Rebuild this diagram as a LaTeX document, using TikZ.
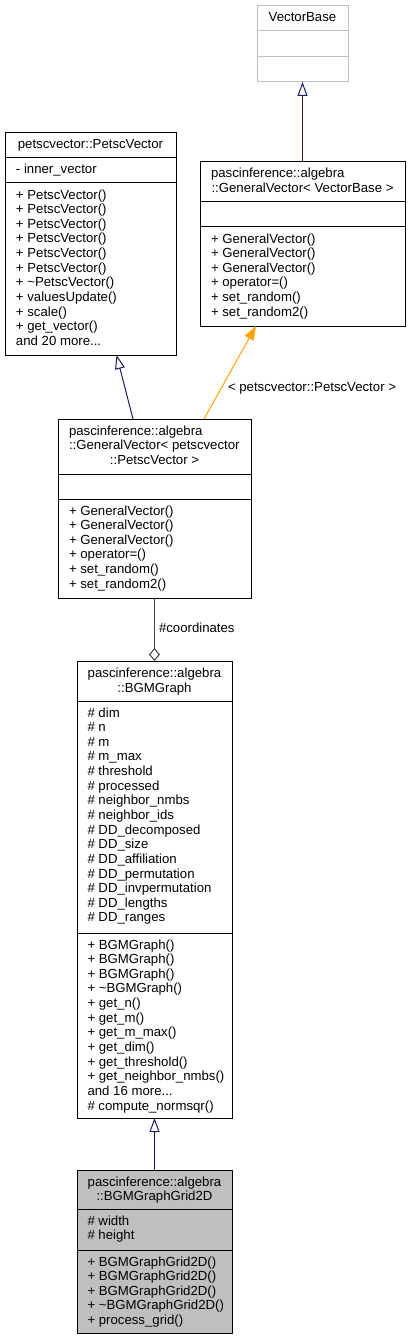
\documentclass[tikz,border=0pt]{standalone}
\usepackage{fontspec}
\setmainfont{Liberation Sans}
\usetikzlibrary{arrows.meta,calc}
\definecolor{navyline}{HTML}{191970}
\definecolor{orangeline}{HTML}{FFA500}
\definecolor{aggline}{HTML}{404040}
\definecolor{lightborder}{HTML}{BFBFBF}
\definecolor{curfill}{HTML}{BFBFBF}
\newcommand\fl{\rule{0pt}{10pt}}
\begin{document}
\begin{tikzpicture}[x=1pt,y=-1pt,
  cls/.style={draw=black, line width=1pt, inner sep=0, outer sep=0, anchor=north west},
  divider/.style={draw=black, line width=1pt},
  txt/.style={inner sep=0, outer sep=0, align=left, anchor=north west, font=\fontsize{13.2}{14.64}\selectfont},
  hdl/.style={inner sep=0, outer sep=0, anchor=base west, font=\fontsize{13.2}{14.64}\selectfont},
  hdc/.style={inner sep=0, outer sep=0, anchor=base, font=\fontsize{13.2}{14.64}\selectfont},
  inherit/.style={draw=navyline, line width=1pt, -{Triangle[open, length=14pt, width=10pt]}},
  templ/.style={draw=orangeline, line width=1pt, -{Triangle[length=14pt, width=10pt]}, fill=none},
  aggr/.style={draw=aggline, line width=1pt, -{Diamond[open, length=13pt, width=11pt]}},
  lbl/.style={inner sep=0, outer sep=0, anchor=base west, font=\fontsize{13.2}{14.64}\selectfont}
]
\useasboundingbox (0,0) rectangle (411,1340);

% ---------- VectorBase ----------
\node[cls, draw=lightborder, minimum width=91pt, minimum height=76pt] (vb) at (257,6) {};
\draw[divider, draw=lightborder] ($(vb.north west)+(0,25)$) -- ($(vb.north east)+(0,25)$);
\draw[divider, draw=lightborder] ($(vb.north west)+(0,51)$) -- ($(vb.north east)+(0,51)$);
\node[hdc] (vb-h) at ($(vb.north)+(0,16)$) {VectorBase};

% ---------- GeneralVector< VectorBase > ----------
\node[cls, minimum width=205pt, minimum height=164pt] (gvvb) at (200,162) {};
\draw[divider] ($(gvvb.north west)+(0,40)$) -- ($(gvvb.north east)+(0,40)$);
\draw[divider] ($(gvvb.north west)+(0,65)$) -- ($(gvvb.north east)+(0,65)$);
\node[hdl] (gvvb-h1) at ($(gvvb.north west)+(11,16)$) {pascinference::algebra};
\node[hdc] (gvvb-h2) at ($(gvvb.north)+(0,30.64)$) {::GeneralVector< VectorBase >};
\node[txt] (gvvb-m) at ($(gvvb.north west)+(11,71)$) {\fl+ GeneralVector()\\+ GeneralVector()\\+ GeneralVector()\\+ operator=()\\+ set\_random()\\+ set\_random2()};

% ---------- PetscVector ----------
\node[cls, minimum width=171pt, minimum height=222pt] (pv) at (5,133) {};
\draw[divider] ($(pv.north west)+(0,25)$) -- ($(pv.north east)+(0,25)$);
\draw[divider] ($(pv.north west)+(0,50)$) -- ($(pv.north east)+(0,50)$);
\node[hdc] (pv-h) at ($(pv.north)+(0,16)$) {petscvector::PetscVector};
\node[txt] (pv-a) at ($(pv.north west)+(11,31)$) {\fl- inner\_vector};
\node[txt] (pv-m) at ($(pv.north west)+(11,56)$) {\fl+ PetscVector()\\+ PetscVector()\\+ PetscVector()\\+ PetscVector()\\+ PetscVector()\\+ PetscVector()\\+ \textasciitilde PetscVector()\\+ valuesUpdate()\\+ scale()\\+ get\_vector()\\and 20 more...};

% ---------- GeneralVector< PetscVector > ----------
\node[cls, minimum width=193pt, minimum height=179pt] (gvpv) at (58,419) {};
\draw[divider] ($(gvpv.north west)+(0,55)$) -- ($(gvpv.north east)+(0,55)$);
\draw[divider] ($(gvpv.north west)+(0,80)$) -- ($(gvpv.north east)+(0,80)$);
\node[hdl] (gvpv-h1) at ($(gvpv.north west)+(11,16)$) {pascinference::algebra};
\node[hdl] (gvpv-h2) at ($(gvpv.north west)+(11,30.64)$) {::GeneralVector< petscvector};
\node[hdc] (gvpv-h3) at ($(gvpv.north)+(0,45.28)$) {::PetscVector >};
\node[txt] (gvpv-m) at ($(gvpv.north west)+(11,86)$) {\fl+ GeneralVector()\\+ GeneralVector()\\+ GeneralVector()\\+ operator=()\\+ set\_random()\\+ set\_random2()};

% ---------- BGMGraph ----------
\node[cls, minimum width=155pt, minimum height=457pt] (bgm) at (77,661) {};
\draw[divider] ($(bgm.north west)+(0,40)$) -- ($(bgm.north east)+(0,40)$);
\draw[divider] ($(bgm.north west)+(0,272)$) -- ($(bgm.north east)+(0,272)$);
\node[hdc] (bgm-h1) at ($(bgm.north)+(0,16.5)$) {pascinference::algebra};
\node[hdc] (bgm-h2) at ($(bgm.north)+(0,31.14)$) {::BGMGraph};
\node[txt] (bgm-a) at ($(bgm.north west)+(10.5,46)$) {\fl\# dim\\\# n\\\# m\\\# m\_max\\\# threshold\\\# processed\\\# neighbor\_nmbs\\\# neighbor\_ids\\\# DD\_decomposed\\\# DD\_size\\\# DD\_affiliation\\\# DD\_permutation\\\# DD\_invpermutation\\\# DD\_lengths\\\# DD\_ranges};
\node[txt] (bgm-m) at ($(bgm.north west)+(10.5,278)$) {\fl+ BGMGraph()\\+ BGMGraph()\\+ BGMGraph()\\+ \textasciitilde BGMGraph()\\+ get\_n()\\+ get\_m()\\+ get\_m\_max()\\+ get\_dim()\\+ get\_threshold()\\+ get\_neighbor\_nmbs()\\and 16 more...\\\# compute\_normsqr()};

% ---------- BGMGraphGrid2D ----------
\node[cls, fill=curfill, minimum width=155pt, minimum height=163pt] (g2d) at (77,1170) {};
\draw[divider] ($(g2d.north west)+(0,39)$) -- ($(g2d.north east)+(0,39)$);
\draw[divider] ($(g2d.north west)+(0,80)$) -- ($(g2d.north east)+(0,80)$);
\node[hdc] (g2d-h1) at ($(g2d.north)+(0,16)$) {pascinference::algebra};
\node[hdc] (g2d-h2) at ($(g2d.north)+(0,30.64)$) {::BGMGraphGrid2D};
\node[txt] (g2d-a) at ($(g2d.north west)+(10.5,45)$) {\fl\# width\\\# height};
\node[txt] (g2d-m) at ($(g2d.north west)+(10.5,86)$) {\fl+ BGMGraphGrid2D()\\+ BGMGraphGrid2D()\\+ BGMGraphGrid2D()\\+ \textasciitilde BGMGraphGrid2D()\\+ process\_grid()};

% ---------- connectors ----------
\draw[inherit] (gvvb.north) -- (vb.south);
\draw[inherit] ($(gvpv.north west)+(75,0)$) -- ($(pv.south west)+(111.5,0)$);
\draw[templ] ($(gvpv.north west)+(146,0)$) -- ($(gvvb.south west)+(56,0)$);
\node[lbl] (tlabel) at (228,391) {< petscvector::PetscVector >};
\draw[aggr] (gvpv.south) -- (bgm.north);
\node[lbl] (alabel) at (159,632) {\#coordinates};
\draw[inherit] (g2d.north) -- (bgm.south);
\end{tikzpicture}
\end{document}
